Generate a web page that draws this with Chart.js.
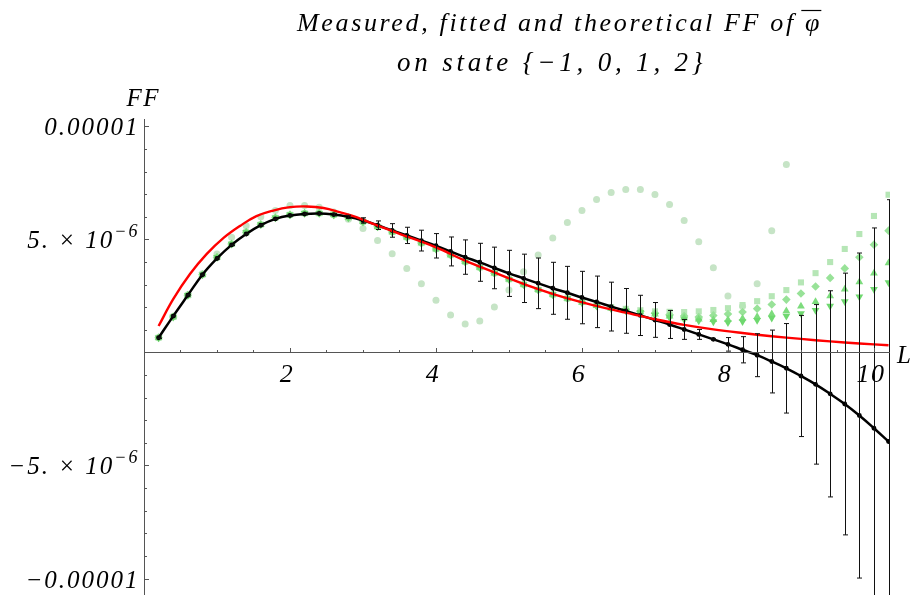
<!DOCTYPE html>
<html><head><meta charset="utf-8">
<script src="https://cdn.jsdelivr.net/npm/chart.js@4/dist/chart.umd.min.js"></script>
<style>html,body{margin:0;padding:0;background:#fff;}canvas{display:block;}</style>
</head><body>
<canvas id="c" width="915" height="595"></canvas>
<script>
// ---- data (FF values in units of 1e-6) ----
const UNIT = 1e-6;
const L = [0.2,0.4,0.6,0.8,1.0,1.2,1.4,1.6,1.8,2.0,2.2,2.4,2.6,2.8,3.0,3.2,3.4,3.6,3.8,4.0,
  4.2,4.4,4.6,4.8,5.0,5.2,5.4,5.6,5.8,6.0,6.2,6.4,6.6,6.8,7.0,7.2,7.4,7.6,7.8,8.0,
  8.2,8.4,8.6,8.8,9.0,9.2,9.4,9.6,9.8,10.0,10.2];
const fitFF = [0.65,1.61,2.53,3.44,4.16,4.76,5.24,5.63,5.91,6.06,6.13,6.15,6.10,6.00,5.84,5.63,5.40,5.18,4.95,4.72,
  4.47,4.22,3.99,3.74,3.50,3.28,3.06,2.84,2.64,2.43,2.24,2.03,1.84,1.64,1.44,1.24,1.02,0.80,0.58,0.36,
  0.12,-0.12,-0.40,-0.70,-1.04,-1.41,-1.83,-2.28,-2.79,-3.35,-3.94];
const fitErr = [0.03,0.03,0.03,0.03,0.03,0.03,0.03,0.03,0.03,0.03,0.04,0.04,0.05,0.07,0.12,0.19,0.30,0.36,0.46,0.54,
  0.64,0.76,0.84,0.92,1.02,1.07,1.12,1.15,1.17,1.16,1.14,1.08,0.99,0.89,0.77,0.62,0.44,0.22,0.03,0.30,
  0.58,0.95,1.39,1.98,2.68,3.53,4.56,5.79,7.19,8.86,10.70];
const circleFF = [0.65,1.60,2.55,3.48,4.36,5.10,5.61,6.01,6.28,6.50,6.50,6.43,6.22,5.90,5.48,4.95,4.37,3.72,3.04,2.31,
  1.66,1.26,1.39,2.01,2.76,3.57,4.31,5.07,5.75,6.28,6.77,7.08,7.21,7.21,6.99,6.55,5.84,4.90,3.75,2.50,
  2.05,3.04,5.39,8.32];
const squareFF = [0.65,1.57,2.53,3.44,4.21,4.80,5.32,5.66,5.96,6.09,6.16,6.16,6.09,5.96,5.78,5.56,5.33,5.10,4.84,4.58,
  4.31,4.01,3.76,3.51,3.24,3.01,2.77,2.56,2.39,2.24,2.11,2.01,1.93,1.87,1.82,1.80,1.79,1.82,1.88,1.96,
  2.10,2.27,2.49,2.76,3.10,3.51,4.00,4.58,5.24,6.04,6.98];
const diamondFF = [0.65,1.57,2.53,3.44,4.21,4.80,5.32,5.66,5.96,6.09,6.16,6.16,6.09,5.96,5.78,5.56,5.33,5.10,4.84,4.58,
  4.31,4.01,3.76,3.51,3.24,3.01,2.77,2.56,2.39,2.22,2.08,1.97,1.89,1.81,1.74,1.67,1.61,1.57,1.64,1.70,
  1.79,1.94,2.12,2.34,2.61,2.92,3.30,3.72,4.21,4.77,5.39];
const upFF = [0.65,1.57,2.53,3.44,4.21,4.80,5.32,5.66,5.96,6.09,6.16,6.16,6.09,5.96,5.78,5.56,5.33,5.10,4.84,4.58,
  4.31,4.01,3.76,3.51,3.24,3.01,2.77,2.56,2.39,2.21,2.07,1.95,1.87,1.79,1.69,1.60,1.52,1.47,1.45,1.45,
  1.50,1.58,1.70,1.84,2.04,2.24,2.50,2.80,3.12,3.51,3.96];
const downFF = [0.65,1.57,2.53,3.44,4.21,4.80,5.32,5.66,5.96,6.09,6.16,6.16,6.09,5.96,5.78,5.56,5.33,5.10,4.84,4.58,
  4.31,4.01,3.76,3.51,3.24,3.01,2.77,2.56,2.39,2.20,2.06,1.94,1.85,1.77,1.66,1.55,1.46,1.40,1.36,1.33,
  1.37,1.43,1.52,1.61,1.72,1.87,2.06,2.25,2.47,2.80,3.10];
const theoryL  = [0.2,0.4,0.63,0.86,1.09,1.32,1.54,1.77,2.0,2.23,2.46,2.68,2.91,3.14,3.51,4.0,4.4,4.8,5.0,5.4,
  5.8,6.2,6.6,7.0,7.4,7.8,8.2,8.6,9.0,9.4,9.8,10.2];
const theoryFF = [1.17,2.36,3.47,4.36,5.07,5.61,6.03,6.28,6.43,6.46,6.39,6.21,5.99,5.69,5.24,4.65,4.06,3.54,3.28,2.80,
  2.39,2.06,1.76,1.47,1.22,1.02,0.86,0.72,0.60,0.49,0.40,0.32];

const xMajorTicks = [2,4,6,8,10];
const xTickLabels = ['2','4','6','8','10'];
const xMinorTicks = [0.5,1,1.5,2.5,3,3.5,4.5,5,5.5,6.5,7,7.5,8.5,9,9.5,10];
const yMajorTicks = [10,5,-5,-10];
const yTickLabels = [['0.00001',''],['5. \u00d7 10','\u22126'],['\u22125. \u00d7 10','\u22126'],['\u22120.00001','']];
const yMinorTicks = [9,8,7,6,4,3,2,1,-1,-2,-3,-4,-6,-7,-8,-9,-10];
const titleLines = ['Measured, fitted and theoretical FF of \u03c6', 'on state {\u22121, 0, 1, 2}'];
const xAxisName = 'L', yAxisName = 'FF';

// ---- build ----
const pts = (xs, ys) => ys.map((v, i) => ({x: xs[i], y: v * UNIT}));
const FONT = "'Liberation Serif', 'Times New Roman', serif";

const axesPlugin = {
  id: 'mmaAxes',
  afterDatasetsDraw(chart) {
    const ctx = chart.ctx, xs = chart.scales.x, ys = chart.scales.y, ca = chart.chartArea;
    ctx.save();
    ctx.beginPath();
    ctx.rect(ca.left, ca.top, ca.right - ca.left, ca.bottom - ca.top);
    ctx.clip();
    ctx.strokeStyle = '#111';
    ctx.lineWidth = 1;
    L.forEach((l, i) => {
      const px = Math.round(xs.getPixelForValue(l)) + 0.5;
      const yt = ys.getPixelForValue((fitFF[i] + fitErr[i]) * UNIT);
      const yb = ys.getPixelForValue((fitFF[i] - fitErr[i]) * UNIT);
      ctx.beginPath();
      ctx.moveTo(px, yt); ctx.lineTo(px, yb);
      ctx.moveTo(px - 2.5, yt); ctx.lineTo(px + 2.5, yt);
      ctx.moveTo(px - 2.5, yb); ctx.lineTo(px + 2.5, yb);
      ctx.stroke();
    });
    ctx.restore();
  },
  afterDraw(chart) {
    const ctx = chart.ctx, xs = chart.scales.x, ys = chart.scales.y, ca = chart.chartArea;
    const x0 = Math.round(xs.getPixelForValue(0)) + 0.5;
    const y0 = Math.round(ys.getPixelForValue(0)) + 0.5;
    ctx.save();
    ctx.strokeStyle = '#555';
    ctx.lineWidth = 1;
    ctx.beginPath();
    ctx.moveTo(x0, ca.top); ctx.lineTo(x0, ca.bottom);
    ctx.moveTo(ca.left, y0); ctx.lineTo(ca.right, y0);
    xMajorTicks.forEach(t => { const p = Math.round(xs.getPixelForValue(t)) + 0.5; ctx.moveTo(p, y0); ctx.lineTo(p, y0 - 4.5); });
    xMinorTicks.forEach(t => { const p = Math.round(xs.getPixelForValue(t)) + 0.5; ctx.moveTo(p, y0); ctx.lineTo(p, y0 - 2.5); });
    yMajorTicks.forEach(t => { const p = Math.round(ys.getPixelForValue(t * UNIT)) + 0.5; ctx.moveTo(x0, p); ctx.lineTo(x0 + 4.5, p); });
    yMinorTicks.forEach(t => { const p = Math.round(ys.getPixelForValue(t * UNIT)) + 0.5; ctx.moveTo(x0, p); ctx.lineTo(x0 + 2.5, p); });
    ctx.stroke();

    ctx.fillStyle = '#000';
    // x labels
    ctx.letterSpacing = '1.5px';
    ctx.font = 'italic 26px ' + FONT;
    ctx.textAlign = 'center';
    ctx.textBaseline = 'alphabetic';
    xMajorTicks.forEach((t, i) => {
      ctx.fillText(xTickLabels[i], xs.getPixelForValue(t) - 3, y0 + 29);
    });
    // y labels
    ctx.letterSpacing = '2px';
    yMajorTicks.forEach((t, i) => {
      const [main, sup] = yTickLabels[i];
      const p = ys.getPixelForValue(t * UNIT);
      const right = x0 - 5;
      ctx.textAlign = 'right';
      let supW = 0;
      if (sup) {
        ctx.font = 'italic 18px ' + FONT;
        supW = ctx.measureText(sup).width;
        ctx.fillText(sup, right, p - 2);
      }
      ctx.font = 'italic 25px ' + FONT;
      ctx.fillText(main, right - supW, p + 9);
    });
    // axis names
    ctx.letterSpacing = '1.5px';
    ctx.textAlign = 'left';
    ctx.font = 'italic 25px ' + FONT;
    ctx.fillText(xAxisName, ca.right + 7, y0 + 10);
    ctx.fillText(yAxisName, x0 - 18, ca.top - 13);
    // title
    ctx.textAlign = 'left';
    ctx.font = 'italic 26px ' + FONT;
    ctx.letterSpacing = '2.65px';
    ctx.fillText(titleLines[0], 297, 31);
    const w1 = ctx.measureText(titleLines[0]).width;
    const phiW = ctx.measureText('\u03c6').width;
    const phiR = 297 + w1 - 2.65;
    ctx.beginPath();
    ctx.lineWidth = 1.2;
    ctx.strokeStyle = '#000';
    ctx.moveTo(phiR - phiW - 1, 10.5); ctx.lineTo(phiR + 2, 10.5);
    ctx.stroke();
    ctx.font = 'italic 27px ' + FONT;
    ctx.letterSpacing = '3.8px';
    ctx.fillText(titleLines[1], 397, 71);
    ctx.restore();
  }
};

const green = (c) => ({backgroundColor: c, borderColor: c, borderWidth: 0, showLine: false});

new Chart(document.getElementById('c'), {
  type: 'scatter',
  data: {
    datasets: [
      {label: 'theory', data: pts(theoryL, theoryFF), showLine: true, borderColor: '#ff0000', borderWidth: 2.4,
       pointRadius: 0, tension: 0.4, fill: false},
      {label: 'fit', data: pts(L, fitFF), showLine: true, borderColor: '#000', backgroundColor: '#000', borderWidth: 2.5,
       pointRadius: 1.2, tension: 0.4, fill: false},
      Object.assign({label: 'downTriangle', data: pts(L, downFF), pointStyle: 'triangle', rotation: 180, pointRadius: 4.5}, green('#6fd86f')),
      Object.assign({label: 'upTriangle', data: pts(L, upFF), pointStyle: 'triangle', pointRadius: 4.5}, green('#7ddc7d')),
      Object.assign({label: 'diamond', data: pts(L, diamondFF), pointStyle: 'rectRot', pointRadius: 4.3}, green('#98e298')),
      Object.assign({label: 'square', data: pts(L, squareFF), pointStyle: 'rect', pointRadius: 4.3}, green('#b6e6b6')),
      Object.assign({label: 'circle', data: pts(L.slice(0, circleFF.length), circleFF), pointStyle: 'circle', pointRadius: 3.5}, green('#c6e4c6'))
    ]
  },
  options: {
    responsive: false,
    animation: false,
    devicePixelRatio: 1,
    layout: {autoPadding: false, padding: {left: 144, right: 25, top: 119, bottom: 0}},
    plugins: {legend: {display: false}, tooltip: {enabled: false}, title: {display: false}},
    scales: {
      x: {type: 'linear', min: 0, max: 10.22, display: false},
      y: {type: 'linear', min: -10.73 * UNIT, max: 10.33 * UNIT, display: false}
    }
  },
  plugins: [axesPlugin]
});
</script>
</body></html>
